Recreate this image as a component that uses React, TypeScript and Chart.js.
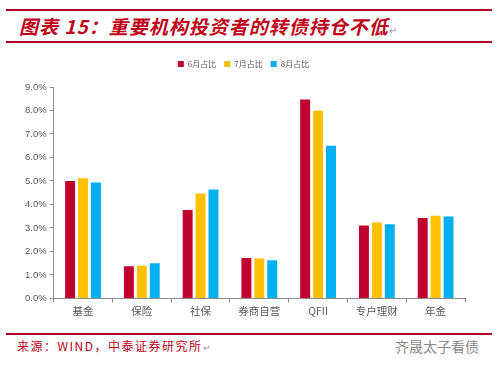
import React, { useEffect, useRef } from "react";
import { Chart, registerables } from "chart.js";

Chart.register(...registerables);

const categories = ["基金", "保险", "社保", "券商自营", "QFII", "专户理财", "年金"];
const seriesNames = ["6月占比", "7月占比", "8月占比"];
const june = [5.0, 1.37, 3.76, 1.72, 8.47, 3.1, 3.42];
const july = [5.12, 1.39, 4.47, 1.7, 7.99, 3.23, 3.52];
const august = [4.93, 1.5, 4.64, 1.62, 6.5, 3.16, 3.49];
const colors = ["#C0002F", "#FFC000", "#00B0F0"];
const yTicksMax = 9;

const legendMargin = {
  id: "legendMargin",
  beforeInit(chart: any) {
    const orig = chart.legend.fit;
    chart.legend.fit = function () {
      orig.bind(chart.legend)();
      this.height += 9;
    };
  },
};

export default function App() {
  const ref = useRef<HTMLCanvasElement | null>(null);
  useEffect(() => {
    if (!ref.current) return;
    const data = [june, july, august];
    const chart = new Chart(ref.current, {
      type: "bar",
      data: {
        labels: categories,
        datasets: seriesNames.map((n, i) => ({
          label: n,
          data: data[i],
          backgroundColor: colors[i],
          borderWidth: 0,
          categoryPercentage: 0.66,
          barPercentage: 0.77,
        })),
      },
      plugins: [legendMargin],
      options: {
        animation: false,
        responsive: false,
        maintainAspectRatio: false,
        layout: { padding: { left: 22, right: 33, top: 0, bottom: 3 } },
        plugins: {
          legend: {
            position: "top",
            align: "center",
            labels: {
              boxWidth: 6,
              boxHeight: 6,
              padding: 8,
              color: "#595959",
              font: { size: 8, family: "'Noto Sans CJK SC', sans-serif" },
            },
          },
          tooltip: { enabled: false },
        },
        scales: {
          x: {
            grid: {
              display: true,
              drawOnChartArea: false,
              tickLength: 4,
              color: "#8c8c8c",
              offset: true,
            },
            border: { color: "#8c8c8c", width: 1 },
            ticks: {
              color: "#595959",
              font: { size: 10.5, family: "'Noto Sans CJK SC', sans-serif" },
              padding: 2,
            },
          },
          y: {
            min: 0,
            max: yTicksMax,
            grid: {
              display: true,
              drawOnChartArea: false,
              tickLength: 4,
              color: "#8c8c8c",
            },
            border: { color: "#8c8c8c", width: 1 },
            ticks: {
              stepSize: 1,
              color: "#595959",
              padding: 3,
              font: { size: 9.5, family: "'Liberation Sans', Arial, sans-serif" },
              callback: (v: any) => `${Number(v).toFixed(1)}%`,
            },
          },
        },
      },
    });
    return () => chart.destroy();
  }, []);

  return (
    <div
      style={{
        position: "absolute",
        left: 0,
        top: 0,
        width: 498,
        height: 367,
        background: "#fff",
        overflow: "hidden",
      }}
    >
      <div style={{ position: "absolute", left: 6, top: 9, width: 486, height: 2, background: "#B0001E" }} />
      <div
        style={{
          position: "absolute",
          left: 19,
          top: 13,
          fontFamily: "'Noto Sans CJK SC', sans-serif",
          fontWeight: "bold",
          fontStyle: "italic",
          fontSize: 19,
          lineHeight: "26px",
          letterSpacing: 1,
          color: "#C00018",
          whiteSpace: "nowrap",
        }}
      >
        图表 15：重要机构投资者的转债持仓不低
        <span style={{ fontSize: 10, color: "#999", fontWeight: "normal", fontStyle: "normal" }}>↵</span>
      </div>
      <div style={{ position: "absolute", left: 6, top: 41, width: 486, height: 2, background: "#B0001E" }} />
      <div style={{ position: "absolute", left: 0, top: 52, width: 498, height: 270 }}>
        <canvas ref={ref} width={498} height={270} style={{ width: 498, height: 270 }} />
      </div>
      <div style={{ position: "absolute", left: 6, top: 333, width: 486, height: 2, background: "#B0001E" }} />
      <div
        style={{
          position: "absolute",
          left: 17,
          top: 338,
          fontFamily: "'Noto Sans CJK SC', sans-serif",
          fontSize: 12,
          lineHeight: "16px",
          letterSpacing: 1.5,
          color: "#C00018",
          whiteSpace: "nowrap",
        }}
      >
        来源：WIND，中泰证券研究所
        <span style={{ fontSize: 9, color: "#999", letterSpacing: 0 }}>↵</span>
      </div>
      <div
        style={{
          position: "absolute",
          left: 395,
          top: 336,
          fontFamily: "'Noto Sans CJK SC', sans-serif",
          fontSize: 14,
          lineHeight: "20px",
          color: "#8a8a8a",
          whiteSpace: "nowrap",
        }}
      >
        齐晟太子看债
      </div>
    </div>
  );
}
